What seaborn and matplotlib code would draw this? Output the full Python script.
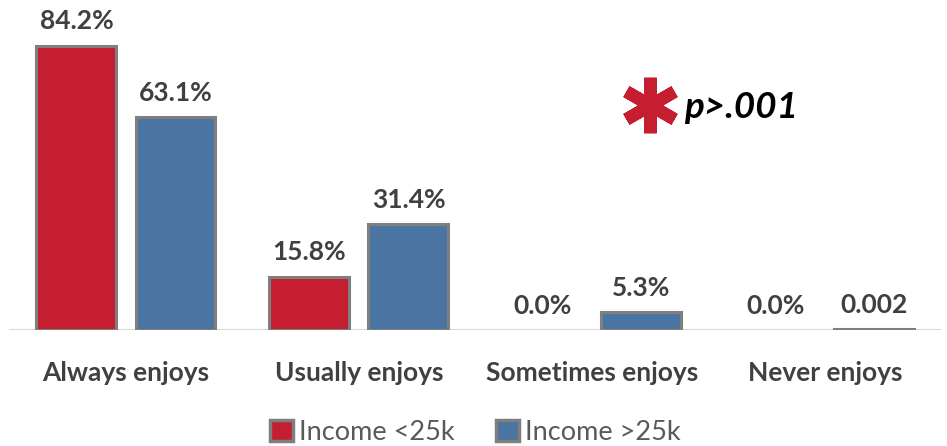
import matplotlib
matplotlib.use("Agg")
import matplotlib.pyplot as plt
import pandas as pd
import seaborn as sns

CATEGORIES = ["Always enjoys", "Usually enjoys", "Sometimes enjoys", "Never enjoys"]
GROUPS = ["Income <25k", "Income >25k"]
LOW_INCOME = [84.2, 15.8, 0.0, 0.0]
HIGH_INCOME = [63.1, 31.4, 5.3, 0.2]
LOW_LABELS = ["84.2%", "15.8%", "0.0%", "0.0%"]
HIGH_LABELS = ["63.1%", "31.4%", "5.3%", "0.002"]

RED = "#C41E30"
BLUE = "#4A74A2"
EDGE = "#7F7F7F"
TEXT = "#404040"

df = pd.DataFrame({
    "category": CATEGORIES * 2,
    "group": [GROUPS[0]] * 4 + [GROUPS[1]] * 4,
    "value": LOW_INCOME + HIGH_INCOME,
})

sns.set_theme(style="white")
plt.rcParams["font.family"] = ["Lato", "DejaVu Sans"]

fig = plt.figure(figsize=(9.47, 4.46), dpi=100)
ax = fig.add_axes([0.010, 0.260, 0.984, 0.740])

sns.barplot(
    data=df, x="category", y="value", hue="group",
    palette=[RED, BLUE], saturation=1, width=0.85, gap=0.193,
    edgecolor=EDGE, linewidth=2.2, ax=ax, legend=True,
)

for cont, labels in zip(ax.containers, [LOW_LABELS, HIGH_LABELS]):
    for bar in cont:
        if bar.get_height() == 0:
            bar.set_linewidth(0)
    ax.bar_label(cont, labels=labels, padding=9, fontsize=19,
                 fontweight="bold", color=TEXT)

ax.set_xlim(-0.5, 3.5)
ax.set_ylim(0, 97.8)
ax.set_xlabel("")
ax.set_ylabel("")
ax.set_yticks([])
ax.tick_params(axis="x", length=0, pad=22, labelsize=19, labelcolor=TEXT)
for t in ax.get_xticklabels():
    t.set_fontweight("bold")
for s in ax.spines.values():
    s.set_visible(False)
ax.axhline(0, color="#D9D9D9", lw=1.5, zorder=0)

leg = ax.legend(loc="center", bbox_to_anchor=(0.5, -0.31), ncol=2,
                frameon=False, fontsize=19.5, handlelength=0.85, handleheight=0.85,
                handletextpad=0.25, columnspacing=1.5)
for txt in leg.get_texts():
    txt.set_color("#595959")
for h in leg.legend_handles:
    h.set_linewidth(2.5)

# significance note
ax.plot([0.687], [0.682], transform=ax.transAxes, marker=(6, 2, 0),
        markersize=40, mew=9, color=RED, clip_on=False)
ax.text(0.724, 0.673, "p>.001", transform=ax.transAxes, fontsize=26.5,
        fontweight="bold", fontstyle="italic", color="black",
        va="center", ha="left")

fig.savefig("out.png", dpi=100)
